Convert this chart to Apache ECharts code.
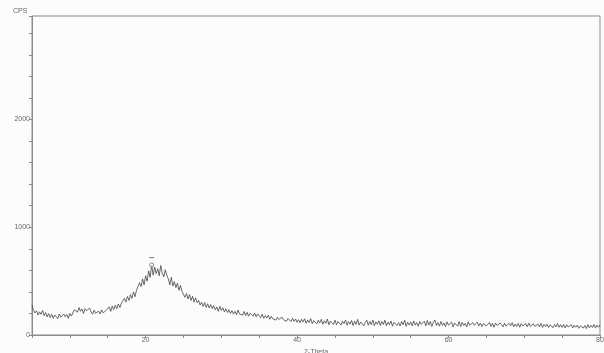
<!DOCTYPE html>
<html>
<head>
<meta charset="utf-8">
<script src="https://cdn.jsdelivr.net/npm/echarts@6/dist/echarts.min.js"></script>
<style>
  html, body { margin: 0; padding: 0; background: #fcfcfc; }
  #chart { width: 604px; height: 353px; }
</style>
</head>
<body>
<div id="chart"></div>
<script>
// scan grid: 2-Theta from 5 to 80, step 0.2
const THETA_START = 5
const THETA_STEP = 0.2

// counts, one row per 2 degrees
const cps = [
  275, 230, 205, 225, 185, 215, 192, 228, 180, 208,
  168, 198, 162, 192, 155, 186, 172, 152, 195, 165,
  160, 195, 168, 190, 155, 200, 175, 192, 235, 250,
  212, 255, 220, 242, 200, 245, 225, 208, 250, 215,
  192, 230, 200, 185, 222, 195, 232, 205, 190, 230,
  228, 260, 220, 268, 235, 275, 245, 288, 255, 295,
  295, 340, 305, 358, 320, 375, 340, 400, 355, 415,
  425, 485, 450, 520, 465, 550, 500, 595, 535, 650,
  555, 630, 570, 615, 550, 645, 575, 540, 605, 555,
  520, 465, 535, 455, 495, 440, 480, 415, 460, 405,
  400, 350, 385, 335, 375, 320, 360, 305, 345, 300,
  322, 278, 305, 264, 300, 256, 290, 250, 282, 244,
  272, 234, 260, 220, 266, 228, 252, 214, 244, 208,
  234, 200, 226, 194, 220, 188, 232, 196, 214, 184,
  218, 180, 210, 174, 202, 214, 176, 204, 168, 196,
  188, 160, 194, 154, 180, 158, 184, 146, 174, 150,
  168, 138, 164, 144, 134, 166, 141, 159, 128, 154,
  144, 124, 156, 126, 149, 118, 142, 114, 146, 121,
  150, 108, 140, 115, 152, 105, 135, 148, 102, 138,
  112, 145, 100, 132, 108, 148, 95, 130, 140, 98,
  138, 95, 125, 142, 92, 128, 105, 140, 90, 125,
  100, 135, 88, 128, 98, 145, 92, 120, 132, 85,
  118, 138, 90, 125, 95, 140, 86, 122, 100, 132,
  88, 125, 98, 138, 85, 120, 95, 130, 82, 118,
  132, 88, 115, 84, 125, 95, 138, 80, 118, 92,
  122, 85, 130, 92, 115, 82, 125, 98, 88, 128,
  85, 135, 92, 125, 80, 120, 140, 88, 115, 82,
  125, 88, 112, 78, 122, 92, 85, 120, 75, 112,
  110, 82, 125, 78, 118, 88, 108, 75, 122, 90,
  80, 115, 90, 75, 120, 84, 110, 78, 105, 118,
  85, 75, 115, 80, 108, 72, 110, 88, 78, 112,
  105, 76, 110, 82, 72, 108, 85, 115, 75, 102,
  78, 108, 72, 105, 84, 70, 106, 76, 110, 80,
  72, 105, 80, 68, 102, 76, 108, 70, 98, 78,
  100, 70, 95, 104, 68, 98, 75, 108, 72, 96,
  70, 98, 66, 95, 74, 68, 96, 65, 92, 72,
  92, 62, 85, 95, 64, 88, 60, 96, 66, 90,
  70, 98, 64, 92, 72, 95
]

// peak marker drawn by the diffractometer software
const peakCircle = [[20.8, 650]]
const peakDash = [[20.8, 718]]

const xLabels = [20, 40, 60, 80]
const yLabels = [0, 1000, 2000]

const trace = cps.map((v, i) => [+(THETA_START + i * THETA_STEP).toFixed(1), v])

const AXIS_COLOR = '#8a8a8a'
const TEXT_COLOR = '#666'
const FONT = 'Liberation Sans'

const chart = echarts.init(document.getElementById('chart'), null, { renderer: 'canvas' })

chart.setOption({
  animation: false,
  backgroundColor: '#fcfcfc',
  title: {
    text: 'CPS',
    left: 8,
    top: 3,
    textStyle: { fontSize: 7, fontWeight: 'normal', color: TEXT_COLOR, fontFamily: FONT },
  },
  grid: {
    left: 32, right: 4, top: 16, bottom: 18,
    outerBoundsMode: 'none',
    containLabel: false,
    show: true, borderColor: AXIS_COLOR, borderWidth: 1, backgroundColor: 'transparent',
  },
  xAxis: {
    type: 'value',
    min: 5,
    max: 80,
    interval: 5,
    name: '2-Theta',
    nameLocation: 'middle',
    nameGap: 7,
    nameTextStyle: { fontSize: 7, color: TEXT_COLOR, fontFamily: FONT, verticalAlign: 'top' },
    axisLine: { lineStyle: { color: AXIS_COLOR } },
    axisTick: { length: 3, lineStyle: { color: AXIS_COLOR } },
    axisLabel: {
      fontSize: 7, color: TEXT_COLOR, fontFamily: FONT, margin: 2,
      showMinLabel: true, showMaxLabel: true,
      formatter: (v) => (xLabels.includes(v) ? String(v) : ''),
    },
    splitLine: { show: false },
  },
  yAxis: {
    type: 'value',
    min: 0,
    max: 2960,
    interval: 200,
    axisLine: { show: true, lineStyle: { color: AXIS_COLOR } },
    axisTick: { show: true, length: 3, lineStyle: { color: AXIS_COLOR } },
    axisLabel: {
      fontSize: 7, color: TEXT_COLOR, fontFamily: FONT, margin: 2,
      formatter: (v) => (yLabels.includes(v) ? String(v) : ''),
    },
    splitLine: { show: false },
  },
  series: [
    {
      type: 'line',
      data: trace,
      symbol: 'none',
      lineStyle: { color: '#444', width: 0.8 },
      z: 2,
    },
    {
      type: 'scatter',
      data: peakCircle,
      symbol: 'circle',
      symbolSize: 4,
      itemStyle: { color: '#fcfcfc', borderColor: '#555', borderWidth: 0.8 },
      z: 3,
    },
    {
      type: 'scatter',
      data: peakDash,
      symbol: 'rect',
      symbolSize: [5, 1],
      itemStyle: { color: '#555' },
      z: 3,
    },
  ],
})
</script>
</body>
</html>
